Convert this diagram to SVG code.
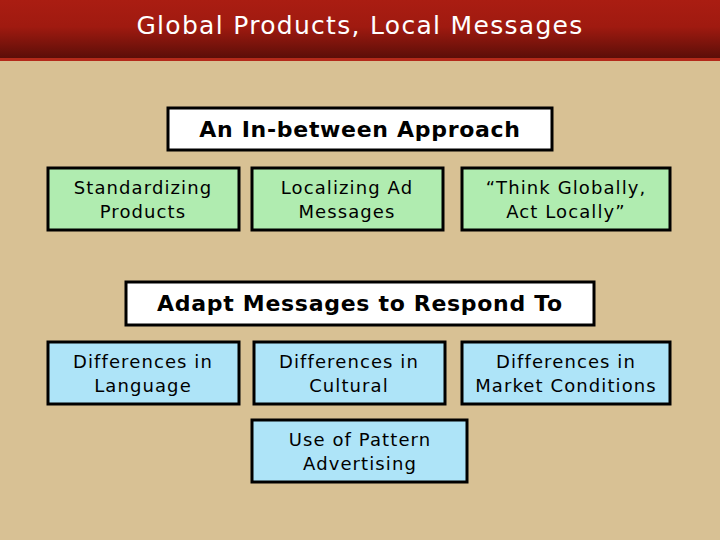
<svg xmlns="http://www.w3.org/2000/svg" width="720" height="540" viewBox="0 0 720 540">
<defs><linearGradient id="tg" x1="0" y1="0" x2="0" y2="1"><stop offset="0" stop-color="#AA1D12"/><stop offset="0.45" stop-color="#A01A10"/><stop offset="1" stop-color="#5A0E08"/></linearGradient></defs>
<style>
text{font-family:"DejaVu Sans",Verdana,sans-serif;text-anchor:middle;fill:#000}
.b{stroke:#000;stroke-width:3}
.g{fill:#B0ECB0}.c{fill:#AEE4F8}.w{fill:#fff}
.t{font-size:18px;letter-spacing:1.1px}.h{font-size:22px;font-weight:bold;letter-spacing:0.7px}
</style>
<rect width="720" height="540" fill="#D8C194"/>
<rect width="720" height="59" fill="url(#tg)"/>
<rect y="58" width="720" height="3" fill="#B42A1A"/>
<text x="360" y="34" style="font-size:25px;fill:#fff;letter-spacing:1.3px">Global Products, Local Messages</text>
<g id="approach"><rect class="b w" x="168" y="108" width="384" height="42"/><text class="h" x="360" y="137">An In-between Approach</text></g>
<g id="std"><rect class="b g" x="48" y="168" width="191" height="62"/><text class="t" x="143" y="194">Standardizing</text><text class="t" x="143" y="218">Products</text></g>
<g id="loc"><rect class="b g" x="252" y="168" width="191" height="62"/><text class="t" x="347" y="194">Localizing Ad</text><text class="t" x="347" y="218">Messages</text></g>
<g id="think"><rect class="b g" x="462" y="168" width="208" height="62"/><text class="t" x="566" y="194">“Think Globally,</text><text class="t" x="566" y="218">Act Locally”</text></g>
<g id="adapt"><rect class="b w" x="126" y="282" width="468" height="43"/><text class="h" x="360" y="311">Adapt Messages to Respond To</text></g>
<g id="lang"><rect class="b c" x="48" y="342" width="191" height="62"/><text class="t" x="143" y="368">Differences in</text><text class="t" x="143" y="392">Language</text></g>
<g id="cult"><rect class="b c" x="254" y="342" width="191" height="62"/><text class="t" x="349" y="368">Differences in</text><text class="t" x="349" y="392">Cultural</text></g>
<g id="market"><rect class="b c" x="462" y="342" width="208" height="62"/><text class="t" x="566" y="368">Differences in</text><text class="t" x="566" y="392">Market Conditions</text></g>
<g id="pattern"><rect class="b c" x="252" y="420" width="215" height="62"/><text class="t" x="360" y="446">Use of Pattern</text><text class="t" x="360" y="470">Advertising</text></g>
<g id="connectors"/>
</svg>
